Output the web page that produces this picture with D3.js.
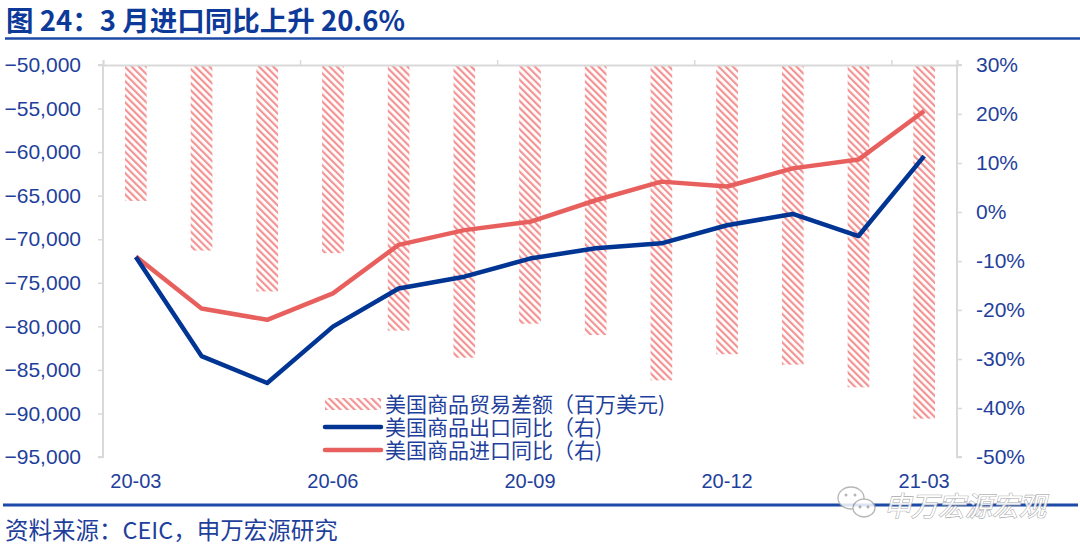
<!DOCTYPE html>
<html><head><meta charset="utf-8">
<script src="https://cdn.jsdelivr.net/npm/d3@7"></script>
<style>
body{margin:0;background:#fff;}
svg{display:block;font-family:"Liberation Sans",Arial,sans-serif;}
.cjk{font-family:"Noto Sans CJK SC","Liberation Sans",sans-serif;}
</style></head>
<body><svg id="c" width="1080" height="549"></svg>
<script>
const months = ["20-03","20-04","20-05","20-06","20-07","20-08","20-09","20-10","20-11","20-12","21-01","21-02","21-03"];
const tickLabels = ["20-03","20-06","20-09","20-12","21-03"];
const tradeBalance = [-65600,-71300,-76000,-71600,-80500,-83600,-79700,-81000,-86200,-83200,-84400,-87000,-90600];
const exportYoY = [-9.2,-29.4,-34.9,-23.4,-15.6,-13.2,-9.5,-7.4,-6.4,-2.7,-0.4,-4.9,11.4];
const importYoY = [-9.1,-19.7,-22.0,-16.6,-6.7,-3.7,-2.0,2.4,6.2,5.2,8.9,10.7,20.6];
const leftTicks = [-50000,-55000,-60000,-65000,-70000,-75000,-80000,-85000,-90000,-95000];
const rightTicks = [30,20,10,0,-10,-20,-30,-40,-50];
const legendLabels = ["美国商品贸易差额（百万美元)","美国商品出口同比（右)","美国商品进口同比（右)"];
const title = "图 24：3 月进口同比上升 20.6%";
const source = "资料来源：CEIC，申万宏源研究";
const watermark = "申万宏源宏观";

const svg = d3.select("#c");
const textBlue = "#1f3f9c", navy = "#003594", red = "#e8605e", grid = "#d9d9d9";
const L = 103, R = 957, T = 65, B = 457;

const x = d3.scaleBand().domain(months).range([L, R]).paddingInner(0.67).paddingOuter(0.335);
const xs = d3.scaleBand().domain(months).range([L, R]);
const yL = d3.scaleLinear().domain([-50000,-95000]).range([T, B]);
const yR = d3.scaleLinear().domain([30,-50]).range([T, B]);

// hatch pattern
const defs = svg.append("defs");
const pat = defs.append("pattern").attr("id","hatch").attr("patternUnits","userSpaceOnUse")
  .attr("width",5).attr("height",5).attr("patternTransform","rotate(-45)");
pat.append("rect").attr("width",5).attr("height",5).attr("fill","#fff");
pat.append("rect").attr("x",0).attr("y",0).attr("width",2.2).attr("height",5).attr("fill","#f39393");

// title
svg.append("text").attr("class","cjk").attr("x",6).attr("y",31).attr("font-size",27.5).attr("font-weight","bold")
  .attr("fill","#0d3a99").text(title);
svg.append("line").attr("x1",5).attr("x2",1080).attr("y1",38.5).attr("y2",38.5).attr("stroke","#1c4aa6").attr("stroke-width",2.5);

// bars
svg.append("g").selectAll("rect").data(months).join("rect")
  .attr("x", d => x(d)).attr("width", x.bandwidth())
  .attr("y", yL(-50000)).attr("height", (d,i) => yL(tradeBalance[i]) - yL(-50000))
  .attr("fill","url(#hatch)");

// axes
const gl = svg.append("g").attr("transform",`translate(${L},0)`)
  .call(d3.axisLeft(yL).tickValues(leftTicks).tickSize(5).tickPadding(17).tickFormat(d3.format(",")));
const gr = svg.append("g").attr("transform",`translate(${R},0)`)
  .call(d3.axisRight(yR).tickValues(rightTicks).tickSize(5).tickPadding(14).tickFormat(d => d + "%"));
const tickPos = months.filter((m,i) => i % 3 === 0).map(m => xs(m)).concat([R]);
const gt = svg.append("g").attr("transform",`translate(0,${T})`)
  .call(d3.axisTop(d3.scaleLinear().domain([L,R]).range([L,R])).tickValues(tickPos).tickSize(5).tickFormat(""));
[gl,gr,gt].forEach(g => {
  g.select(".domain").attr("stroke",grid).attr("stroke-width",2);
  g.selectAll(".tick line").attr("stroke",grid).attr("stroke-width",1.5);
  g.selectAll(".tick text").attr("fill",textBlue).attr("font-size",21).attr("font-family","'Liberation Sans',Arial,sans-serif");
});
gl.select(".domain").attr("d",`M-5,${T}H0V${B}H-5`);
gr.select(".domain").attr("d",`M5,${T}H0V${B}H5`);

// x labels
svg.append("g").selectAll("text").data(tickLabels).join("text")
  .attr("x", d => xs(d) + xs.bandwidth()/2).attr("y", 488).attr("text-anchor","middle")
  .attr("font-size",20).attr("fill",textBlue).text(d => d);

// lines
const lineR = d3.line().x((d,i) => xs(months[i]) + xs.bandwidth()/2).y(d => yR(d));
svg.append("path").datum(importYoY).attr("d", lineR).attr("fill","none").attr("stroke",red).attr("stroke-width",4.5).attr("stroke-linejoin","round");
svg.append("path").datum(exportYoY).attr("d", lineR).attr("fill","none").attr("stroke",navy).attr("stroke-width",4.5).attr("stroke-linejoin","round");

// legend
const lg = svg.append("g");
const ly = [404, 427, 450];
lg.append("rect").attr("x",325).attr("y",ly[0]-6).attr("width",56).attr("height",12).attr("fill","url(#hatch)");
lg.append("line").attr("x1",325).attr("x2",381).attr("y1",ly[1]).attr("y2",ly[1]).attr("stroke",navy).attr("stroke-width",4.5).attr("stroke-linecap","round");
lg.append("line").attr("x1",325).attr("x2",381).attr("y1",ly[2]).attr("y2",ly[2]).attr("stroke",red).attr("stroke-width",4.5).attr("stroke-linecap","round");
lg.selectAll("text").data(legendLabels).join("text").attr("class","cjk")
  .attr("x",385).attr("y",(d,i) => ly[i]).attr("dy","0.36em").attr("font-size",21).attr("fill",textBlue).text(d => d);

// bottom rule and source
svg.append("line").attr("x1",3).attr("x2",1078).attr("y1",505).attr("y2",505).attr("stroke","#1c4aa6").attr("stroke-width",3);
svg.append("text").attr("class","cjk").attr("x",5).attr("y",539).attr("font-size",23.5).attr("fill",textBlue).text(source);

// watermark
const wm = svg.append("g").attr("opacity",0.85);
wm.append("ellipse").attr("cx",851).attr("cy",498).attr("rx",13).attr("ry",11).attr("fill","#fff").attr("stroke","#aaa").attr("stroke-width",1.3);
wm.append("ellipse").attr("cx",864).attr("cy",508).attr("rx",11).attr("ry",9).attr("fill","#fff").attr("stroke","#aaa").attr("stroke-width",1.3);
[[846,495],[855,495],[860,507],[868,507]].forEach(p => wm.append("circle").attr("cx",p[0]).attr("cy",p[1]).attr("r",1.5).attr("fill","#aaa"));
wm.append("text").attr("class","cjk").attr("x",884).attr("y",516).attr("font-size",27).attr("fill","#fff")
  .attr("stroke","#999").attr("stroke-width",1.1).attr("paint-order","stroke").attr("font-style","italic").text(watermark);
</script></body></html>
